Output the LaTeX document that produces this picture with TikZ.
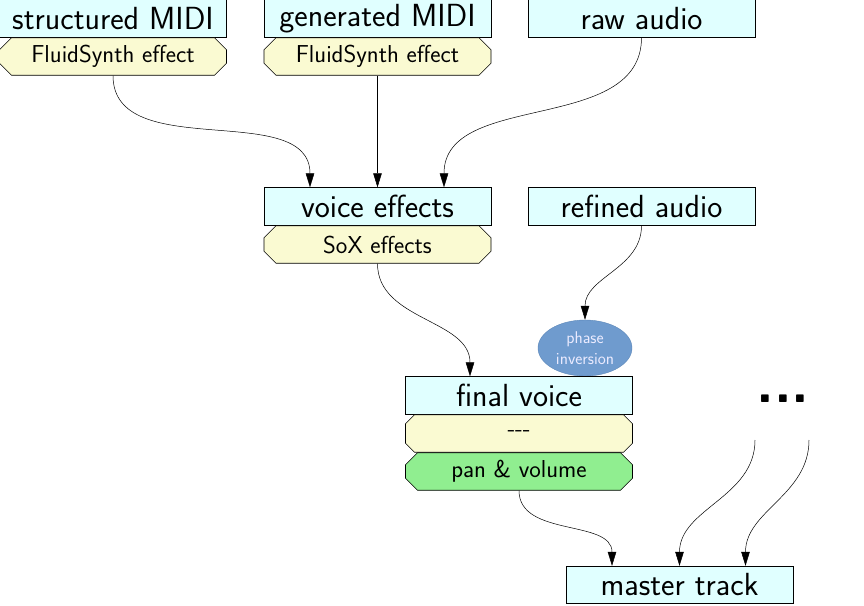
\documentclass[tikz,border=0pt]{standalone}
\usepackage{fontspec}
\usetikzlibrary{shapes.misc,shapes.geometric,arrows.meta}
\definecolor{boxcyan}{HTML}{E0FFFF}
\definecolor{fxbeige}{HTML}{FAFAD2}
\definecolor{fxgreen}{HTML}{90EE90}
\definecolor{phfill}{HTML}{6F9BCE}
\definecolor{phdraw}{HTML}{5C87B8}
\begin{document}
\begin{tikzpicture}[x=1pt,y=-1pt,
  mainbox/.style={draw, line width=0.8pt, fill=boxcyan, rectangle, minimum width=227pt, minimum height=37.5pt, inner sep=0pt, font=\sffamily\fontsize{32}{36}\selectfont},
  fxbox/.style={draw, line width=0.6pt, fill=fxbeige, chamfered rectangle, chamfered rectangle xsep=6pt, chamfered rectangle ysep=6pt, minimum width=227pt, minimum height=37.5pt, inner sep=0pt, font=\sffamily\fontsize{24.5}{28}\selectfont},
  conn/.style={line width=0.5pt, -{Triangle[length=14pt,width=8.5pt]}},
  curvy/.style={out=-90, in=90}
]
\useasboundingbox (0,0) rectangle (864,605);
% top row
\node[mainbox] (sm) at (113,18.5) {structured MIDI};
\node[fxbox] (fs1) at (113,56.5) {FluidSynth effect};
\node[mainbox] (gm) at (377.5,18.5) {generated MIDI};
\node[fxbox] (fs2) at (377.5,56.5) {FluidSynth effect};
\node[mainbox] (ra) at (641.5,18.5) {raw audio};
% middle
\node[mainbox] (ve) at (377.5,206.5) {voice effects};
\node[fxbox] (sox) at (377.5,244.5) {SoX effects};
\node[mainbox] (rf) at (641.5,206.5) {refined audio};
\node[ellipse, draw=phdraw, fill=phfill, minimum width=94pt, minimum height=56pt, inner sep=0pt, align=center, text=white!92!blue, font=\sffamily\fontsize{17}{21}\selectfont] (ph) at (585,348) {phase\\inversion};
% final voice
\node[mainbox] (fv) at (519,395.5) {final voice};
\node[fxbox] (dash) at (519,433.5) {-{}-{}-};
\node[fxbox, fill=fxgreen] (pv) at (519,471.5) {pan \& volume};
\node[font=\sffamily\bfseries\fontsize{58}{60}\selectfont, inner sep=0pt] (dots) at (783,399) {...};
\coordinate (d1) at (755,440);
\coordinate (d2) at (809,440);
% master
\node[mainbox] (mt) at (679.5,585) {master track};
% connectors
\draw[conn] (fs1.south) to[curvy] ([xshift=-67.5pt]ve.north);
\draw[conn] (fs2.south) -- (ve.north);
\draw[conn] (ra.south) to[curvy] ([xshift=66.5pt]ve.north);
\draw[conn] (rf.south) to[curvy] (ph.north);
\draw[conn] (sox.south) to[curvy] ([xshift=-49pt]fv.north);
\draw[conn] (pv.south) to[curvy] ([xshift=-67.5pt]mt.north);
\draw[conn] (d1) to[curvy] (mt.north);
\draw[conn] (d2) to[curvy] ([xshift=66pt]mt.north);
\end{tikzpicture}
\end{document}
